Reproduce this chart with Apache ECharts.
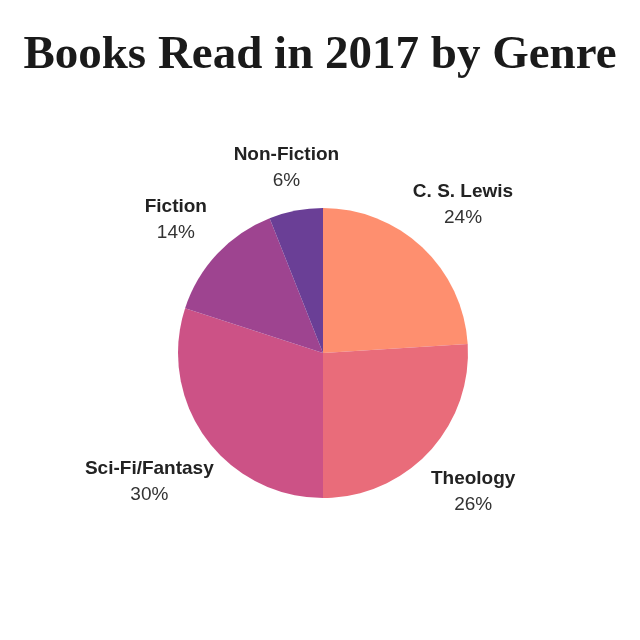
<!DOCTYPE html>
<html><head><meta charset="utf-8">
<script src="https://cdn.jsdelivr.net/npm/echarts@6/dist/echarts.min.js"></script>
<style>html,body{margin:0;padding:0;background:#fff}#c{width:640px;height:640px}</style>
</head><body><div id="c"></div>
<script>
const categories = ['C. S. Lewis', 'Theology', 'Sci-Fi/Fantasy', 'Fiction', 'Non-Fiction'];
const values = [24, 26, 30, 14, 6];
const colors = ['#FE8F6F', '#E96C7A', '#CC5286', '#9E4490', '#6A3F96'];
const labelOffsets = [[-1, 2], [0, -2], [-7, 8], [3, 8], [2, 17]];

const chart = echarts.init(document.getElementById('c'));
const pieData = categories.map((n, i) => ({ name: n, value: values[i], itemStyle: { color: colors[i] } }));
const labelData = categories.map((n, i) => ({ name: n, value: values[i], label: { offset: labelOffsets[i] } }));
chart.setOption({
  backgroundColor: '#fff',
  animation: false,
  title: {
    text: 'Books Read in 2017 by Genre',
    left: 'center', top: 27,
    textStyle: { fontFamily: 'Liberation Serif', fontWeight: 'bold', fontSize: 47, color: '#1a1a1a' }
  },
  series: [
    {
      type: 'pie', center: [323, 353], radius: [0, 145], startAngle: 90, clockwise: true,
      label: { show: false }, labelLine: { show: false }, silent: true,
      data: pieData
    },
    {
      type: 'pie', center: [323, 353], radius: [150, 256], startAngle: 90, clockwise: true,
      silent: true, itemStyle: { color: 'rgba(0,0,0,0)' }, labelLine: { show: false },
      label: {
        show: true, position: 'inside',
        formatter: p => '{n|' + p.name + '}\n{p|' + p.value + '%}',
        rich: {
          n: { fontFamily: 'Liberation Sans', fontWeight: 'bold', fontSize: 19, color: '#222', lineHeight: 26, align: 'center' },
          p: { fontFamily: 'Liberation Sans', fontSize: 19, color: '#333', lineHeight: 26, align: 'center' }
        }
      },
      data: labelData
    }
  ]
});
</script></body></html>
